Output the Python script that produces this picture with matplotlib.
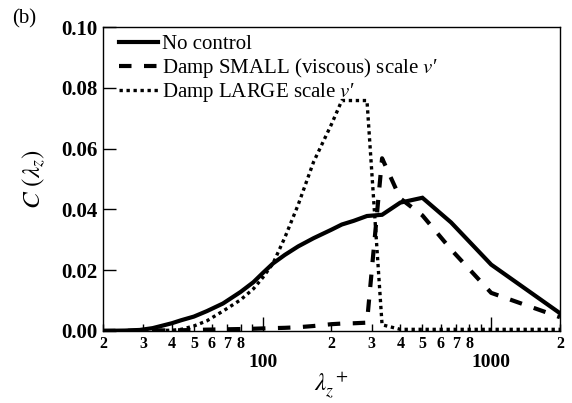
import matplotlib
matplotlib.use("Agg")
import matplotlib.pyplot as plt
from matplotlib.ticker import FixedLocator, FuncFormatter

plt.rcParams['font.family'] = ['Liberation Serif', 'DejaVu Serif']
plt.rcParams['mathtext.fontset'] = 'stix'

# spanwise wavelengths lambda_z^+ (plus units)
lam = [20, 25, 29, 33, 40, 44, 50, 57, 67, 80, 91, 100, 111, 125, 143, 167,
       200, 222, 250, 286, 333, 400, 500, 667, 1000, 2000]

c_no_control = [0.0000, 0.0001, 0.0003, 0.0009, 0.0025, 0.0035, 0.0047, 0.0065,
                0.0090, 0.0128, 0.0160, 0.0190, 0.0222, 0.0250, 0.0278, 0.0305,
                0.0333, 0.0350, 0.0362, 0.0378, 0.0382, 0.0422, 0.0438, 0.0357,
                0.0218, 0.0058]

c_damp_small = [0.0000, 0.0000, 0.0001, 0.0001, 0.0002, 0.0002, 0.0003, 0.0004,
                0.0005, 0.0006, 0.0007, 0.0008, 0.0009, 0.0010, 0.0012, 0.0016,
                0.0022, 0.0024, 0.0025, 0.0027, 0.0568, 0.0436, 0.0380, 0.0268,
                0.0125, 0.0045]

c_damp_large = [0.0000, 0.0000, 0.0000, 0.0001, 0.0002, 0.0005, 0.0016, 0.0033,
                0.0065, 0.0102, 0.0138, 0.0175, 0.0222, 0.0307, 0.0415, 0.0556,
                0.0680, 0.0758, 0.0758, 0.0758, 0.0020, 0.0005, 0.0005, 0.0005,
                0.0005, 0.0005]

labels = ["No control",
          "Damp SMALL (viscous) scale $\\mathit{v}$\u2032",
          "Damp LARGE scale $\\mathit{v}$\u2032"]

major_x = [100, 1000]
minor_x = [20, 30, 40, 50, 60, 70, 80, 90, 200, 300, 400, 500, 600, 700, 800,
           900, 2000]
y_ticks = [0.00, 0.02, 0.04, 0.06, 0.08, 0.10]

fig = plt.figure(figsize=(5.72, 4.03), dpi=100)
ax = fig.add_axes([0.180, 0.179, 0.799, 0.754])

ax.plot(lam, c_no_control, color='black', lw=3.0, solid_joinstyle='miter',
        label=labels[0])
ax.plot(lam, c_damp_small, color='black', lw=3.0, linestyle=(0, (3.0, 3.0)),
        label=labels[1])
ax.plot(lam, c_damp_large, color='black', lw=2.4, linestyle=(0, (1, 1.1)),
        label=labels[2])

ax.set_xscale('log')
ax.set_xlim(20, 2000)
ax.set_ylim(0, 0.10)

ax.xaxis.set_major_locator(FixedLocator(major_x))
ax.xaxis.set_minor_locator(FixedLocator(minor_x))
ax.xaxis.set_major_formatter(FuncFormatter(lambda v, p: f"{int(round(v))}"))


def minor_label(v, p):
    lead = int(round(v / 10 ** int(len(str(int(round(v)))) - 1)))
    return "" if lead == 9 else str(lead)


ax.xaxis.set_minor_formatter(FuncFormatter(minor_label))
ax.set_yticks(y_ticks)
ax.yaxis.set_major_formatter(FuncFormatter(lambda v, p: f"{v:.2f}"))

ax.tick_params(axis='x', which='major', direction='in', length=10, width=1,
               labelsize=14, pad=17)
ax.tick_params(axis='x', which='minor', direction='in', length=5, width=1,
               labelsize=11.5, pad=4)
ax.tick_params(axis='y', which='major', direction='in', length=9, width=1,
               labelsize=15, pad=4)
for lbl in ax.get_xticklabels(which='both') + ax.get_yticklabels():
    lbl.set_fontweight('bold')

for sp in ax.spines.values():
    sp.set_linewidth(1.0)

ax.set_ylabel(r"$C\ (\lambda_z)$", fontsize=18, labelpad=10)
ax.set_xlabel(r"$\lambda_z^{\ +}$", fontsize=18, labelpad=-2)

fig.text(0.021, 0.952, "(b)", fontsize=15, ha='left', va='center')

leg = ax.legend(loc='upper left', bbox_to_anchor=(0.004, 1.022), frameon=False,
                fontsize=15, handlelength=1.85, handletextpad=0.2,
                labelspacing=0.07, borderaxespad=0.3)

fig.savefig("out.png", dpi=100)
